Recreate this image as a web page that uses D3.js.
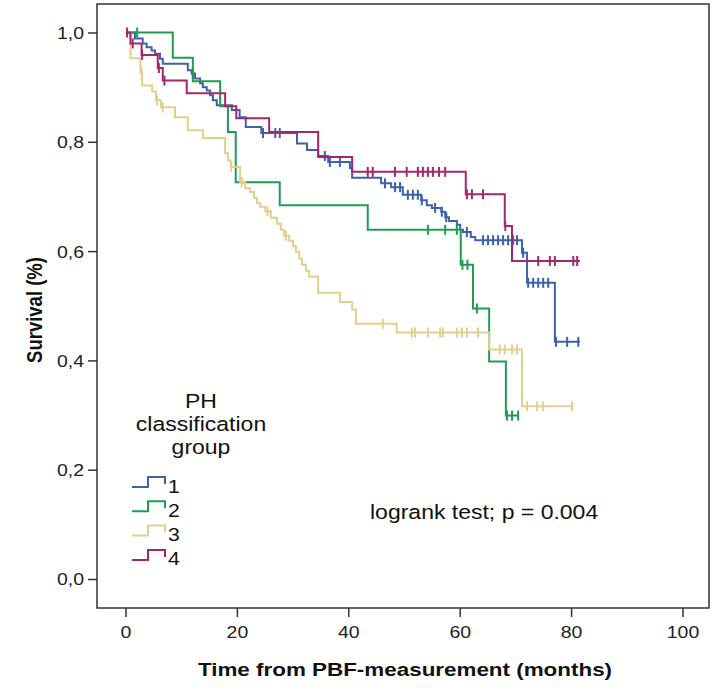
<!DOCTYPE html>
<html><head><meta charset="utf-8">
<script src="https://cdn.jsdelivr.net/npm/d3@7"></script>
<style>body{margin:0;background:#fff}</style>
</head><body>
<svg id="chart" width="714" height="691"></svg>
<script>
// ---------------- data ----------------
const groupNames = ["1", "2", "3", "4"];
const xTicks = [0, 20, 40, 60, 80, 100];
const yTicks = [0, 0.2, 0.4, 0.6, 0.8, 1.0];

// group 1 : [time, survival after the step]
const g1Steps = [[0,1.0],[1.6,0.989],[3.0,0.980],[3.7,0.973],[4.6,0.967],[5.2,0.961],[6.1,0.952],[6.6,0.943],
  [11.1,0.931],[11.8,0.925],[12.4,0.916],[13.3,0.907],[13.8,0.900],[14.5,0.894],[15.1,0.885],[15.6,0.876],
  [16.3,0.867],[19.0,0.858],[20.4,0.845],[21.5,0.827],[24.3,0.816],[30.7,0.797],[32.5,0.785],[34.5,0.774],
  [36.3,0.763],[40.2,0.752],[40.6,0.734],[45.8,0.724],[47.6,0.717],[49.7,0.703],[53.0,0.693],[54.0,0.684],
  [54.9,0.679],[56.6,0.672],[57.3,0.662],[58.0,0.655],[59.4,0.648],[60.0,0.639],[60.5,0.635],[61.9,0.626],
  [62.7,0.620],[71.1,0.597],[72.0,0.542],[77.0,0.434]];
const g1End = 81.5;
const g1Censored = [12.0,24.6,26.8,27.6,35.7,36.6,38.4,46.5,48.3,49.2,50.6,51.5,52.4,53.1,55.5,56.7,57.5,61.2,
  64.1,65.0,65.9,66.8,67.7,68.6,69.5,70.2,71.3,72.2,73.1,74.0,74.9,75.8,77.2,79.2,81.2];

// group 2
const g2Steps = [[0,1.0],[8.4,0.954],[12.0,0.911],[16.9,0.865],[18.3,0.818],[19.7,0.726],[27.6,0.684],
  [43.4,0.639],[60.1,0.575],[62.3,0.495],[65.2,0.398],[68.2,0.299]];
const g2End = 70.4;
const g2Censored = [2.0,54.2,57.3,59.4,60.4,61.3,63.0,68.4,69.3,70.4];

// group 3
const g3Steps = [[0,1.0],[0.8,0.953],[2.6,0.927],[2.9,0.903],[4.7,0.892],[5.4,0.876],[6.3,0.863],[8.8,0.845],
  [11.1,0.821],[13.8,0.807],[17.8,0.779],[18.3,0.766],[18.8,0.754],[20.5,0.726],[21.4,0.715],[22.3,0.708],
  [23.0,0.697],[23.5,0.688],[24.1,0.681],[25.0,0.673],[26.0,0.661],[27.1,0.650],[27.8,0.639],[28.4,0.628],
  [29.3,0.619],[30.0,0.609],[30.5,0.599],[31.1,0.586],[31.6,0.575],[32.3,0.564],[32.9,0.553],[34.5,0.524],
  [38.4,0.507],[40.6,0.493],[41.3,0.467],[48.6,0.451],[65.2,0.420],[71.1,0.316]];
const g3End = 80.1;
const g3Censored = [2.8,5.6,6.6,18.9,20.8,25.4,28.7,46.1,51.3,51.9,54.2,56.4,56.9,59.4,60.3,61.2,63.2,
  67.1,68.0,69.3,70.2,72.0,73.8,74.9,80.1];

// group 4
const g4Steps = [[0,1.0],[0.8,0.980],[2.8,0.959],[5.7,0.935],[6.6,0.912],[10.9,0.889],[17.8,0.865],
  [19.8,0.843],[25.7,0.818],[34.5,0.772],[40.6,0.745],[61.0,0.704],[68.0,0.646],[69.3,0.582]];
const g4End = 81.5;
const g4Censored = [0.2,1.2,2.9,5.9,6.9,43.4,44.3,48.3,50.4,52.4,53.3,54.2,55.1,56.2,57.3,61.2,62.1,64.1,
  68.1,74.0,76.1,77.0,80.3,81.0];

// ---------------- styling / layout ----------------
const groupColors = ["#3d62aa", "#1f9c52", "#e2cf90", "#a3276e"];
const frame = {left: 97, right: 709, top: 4, bottom: 608};
const SX = 1.18; // horizontal stretch of text in original

const svg = d3.select("#chart");
const x = d3.scaleLinear().domain([0, 100]).range([126, 683]);
const y = d3.scaleLinear().domain([0, 1]).range([579, 32.5]);

function hText(g, px, py, str, size, weight, anchor) {
  return g.append("text")
    .attr("transform", `translate(${px},${py}) scale(${SX},1)`)
    .attr("text-anchor", anchor || "start")
    .attr("font-family", "Liberation Sans, Arial, sans-serif")
    .attr("font-size", size)
    .attr("font-weight", weight || "normal")
    .attr("fill", "#111")
    .text(str);
}

// frame
svg.append("rect")
  .attr("x", frame.left).attr("y", frame.top)
  .attr("width", frame.right - frame.left).attr("height", frame.bottom - frame.top)
  .attr("fill", "none").attr("stroke", "#333").attr("stroke-width", 1.5);

// axes
const yAxis = svg.append("g").attr("transform", `translate(${frame.left},0)`)
  .call(d3.axisLeft(y).tickValues(yTicks).tickSize(9).tickPadding(0)
    .tickFormat(d => d3.format(".1f")(d).replace(".", ",")));
yAxis.select(".domain").remove();
yAxis.selectAll("line").attr("stroke", "#333").attr("stroke-width", 1.5);
yAxis.selectAll("text")
  .attr("x", -13 / SX).attr("dy", "0.36em")
  .attr("transform", `scale(${SX},1)`)
  .attr("font-family", "Liberation Sans, Arial, sans-serif")
  .attr("font-size", 16.5).attr("fill", "#222");

const xAxis = svg.append("g").attr("transform", `translate(0,${frame.bottom})`)
  .call(d3.axisBottom(x).tickValues(xTicks).tickSize(9).tickPadding(9));
xAxis.select(".domain").remove();
xAxis.selectAll("line").attr("stroke", "#333").attr("stroke-width", 1.5);
xAxis.selectAll("text")
  .attr("transform", `scale(${SX},1)`)
  .attr("font-family", "Liberation Sans, Arial, sans-serif")
  .attr("font-size", 16.5).attr("fill", "#222");
xAxis.selectAll(".tick").each(function(d) {
  d3.select(this).attr("transform", `translate(${x(d)},0)`);
});

// titles
hText(svg, 405, 676, "Time from PBF-measurement (months)", 19, "bold", "middle");
svg.append("text")
  .attr("transform", `translate(42,310) rotate(-90) scale(1,${SX})`)
  .attr("text-anchor", "middle")
  .attr("font-family", "Liberation Sans, Arial, sans-serif")
  .attr("font-size", 18.5).attr("font-weight", "bold").attr("fill", "#111")
  .text("Survival (%)");

// curves
const groups = [
  {steps: g1Steps, end: g1End, cens: g1Censored},
  {steps: g2Steps, end: g2End, cens: g2Censored},
  {steps: g3Steps, end: g3End, cens: g3Censored},
  {steps: g4Steps, end: g4End, cens: g4Censored}
];
const line = d3.line().x(d => x(d[0])).y(d => y(d[1])).curve(d3.curveStepAfter);
function survAt(steps, t) {
  let s = steps[0][1];
  for (const p of steps) if (p[0] <= t + 1e-9) s = p[1];
  return s;
}
const plot = svg.append("g");
groups.forEach((g, i) => {
  const pts = g.steps.concat([[g.end, g.steps[g.steps.length - 1][1]]]);
  plot.append("path").attr("d", line(pts))
    .attr("fill", "none").attr("stroke", groupColors[i]).attr("stroke-width", 2);
  plot.append("g").selectAll("line").data(g.cens).join("line")
    .attr("x1", d => x(d)).attr("x2", d => x(d))
    .attr("y1", d => y(survAt(g.steps, d)) - 5)
    .attr("y2", d => y(survAt(g.steps, d)) + 5)
    .attr("stroke", groupColors[i]).attr("stroke-width", 2);
});

// legend
const leg = svg.append("g");
hText(leg, 201, 408, "PH", 19.5, "normal", "middle");
hText(leg, 201, 431, "classification", 19.5, "normal", "middle");
hText(leg, 201, 454, "group", 19.5, "normal", "middle");
groupNames.forEach((name, i) => {
  const low = 487 + i * 24.3;
  leg.append("path")
    .attr("d", `M132,${low} H148 V${low - 10} H165 V${low - 3}`)
    .attr("fill", "none").attr("stroke", groupColors[i]).attr("stroke-width", 2);
  hText(leg, 168, low + 5.5, name, 18, "normal", "start");
});

// annotation
hText(svg, 370, 519, "logrank test; p = 0.004", 19.5, "normal", "start");
</script>
</body></html>
